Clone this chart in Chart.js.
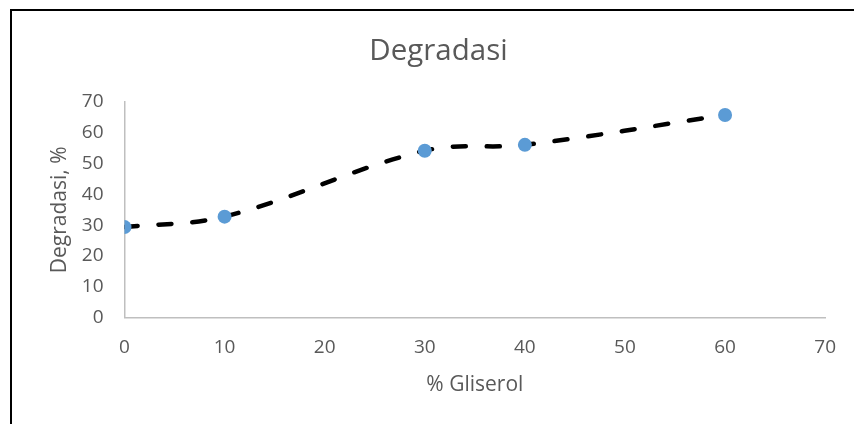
<!DOCTYPE html>
<html>
<head>
<meta charset="utf-8">
<script src="https://cdn.jsdelivr.net/npm/chart.js@4/dist/chart.umd.min.js"></script>
<style>
  html, body { margin: 0; padding: 0; background: #fff; }
  #wrap { position: absolute; left: 0; top: 0; width: 854px; height: 424px; }
</style>
</head>
<body>
<div id="wrap"><canvas id="chart"></canvas></div>
<script>
// data
const gliserol = [0, 10, 30, 40, 60];
const degradasi = [29.4, 32.8, 54.2, 56.1, 65.8];
const xTicks = [0, 10, 20, 30, 40, 50, 60, 70];
const yTicks = [0, 10, 20, 30, 40, 50, 60, 70];
const chartTitle = 'Degradasi';

const textColor = '#595959';
const fontFamily = '"Open Sans", "Liberation Sans", sans-serif';

// frame lines of the pasted box (left and top edges) and the title,
// which in the original sits centred on the whole box, not the plot
const framePlugin = {
    id: 'frame',
    beforeDraw(chart) {
        const ctx = chart.ctx;
        ctx.save();
        ctx.fillStyle = '#000';
        ctx.fillRect(10, 9, 2, 415);
        ctx.fillRect(10, 9, 844, 2);
        ctx.fillStyle = textColor;
        ctx.font = '29.5px ' + fontFamily;
        ctx.textAlign = 'center';
        ctx.textBaseline = 'middle';
        ctx.fillText(chartTitle, 438.5, 52);
        ctx.restore();
    }
};

const points = gliserol.map((g, i) => ({ x: g, y: degradasi[i] }));

new Chart(document.getElementById('chart'), {
    type: 'scatter',
    data: {
        datasets: [{
            label: chartTitle,
            data: points,
            showLine: true,
            tension: 0.35,
            borderColor: '#000',
            borderWidth: 4.5,
            borderDash: [13, 21],
            borderCapStyle: 'round',
            pointRadius: 7,
            pointHoverRadius: 7,
            pointBackgroundColor: '#5B9BD5',
            pointBorderWidth: 0
        }]
    },
    options: {
        responsive: true,
        maintainAspectRatio: false,
        animation: false,
        layout: { padding: { left: 0, right: 26.5, top: 102, bottom: 0 } },
        plugins: {
            legend: { display: false },
            tooltip: { enabled: false },
            title: { display: false }
        },
        scales: {
            x: {
                type: 'linear',
                min: xTicks[0],
                max: xTicks[xTicks.length - 1],
                afterBuildTicks(scale) { scale.ticks = xTicks.map(v => ({ value: v })); },
                afterFit(scale) { scale.height = 106.3; },
                grid: { display: false, drawTicks: false },
                border: { display: true, color: '#BFBFBF', width: 1.5 },
                ticks: {
                    color: textColor,
                    padding: 18,
                    font: { family: fontFamily, size: 19 }
                },
                title: {
                    display: true,
                    text: '% Gliserol',
                    color: textColor,
                    font: { family: fontFamily, size: 21 },
                    padding: { top: 0, bottom: 26 }
                }
            },
            y: {
                type: 'linear',
                min: yTicks[0],
                max: yTicks[yTicks.length - 1],
                afterBuildTicks(scale) { scale.ticks = yTicks.map(v => ({ value: v })); },
                afterFit(scale) { scale.width = 124.5; },
                grid: { display: false, drawTicks: false },
                border: { display: true, color: '#BFBFBF', width: 1.5 },
                ticks: {
                    color: textColor,
                    padding: 21,
                    font: { family: fontFamily, size: 19 }
                },
                title: {
                    display: true,
                    text: 'Degradasi, %',
                    color: textColor,
                    font: { family: fontFamily, size: 21 },
                    padding: { top: 47, bottom: 0 }
                }
            }
        }
    },
    plugins: [framePlugin]
});
</script>
</body>
</html>
